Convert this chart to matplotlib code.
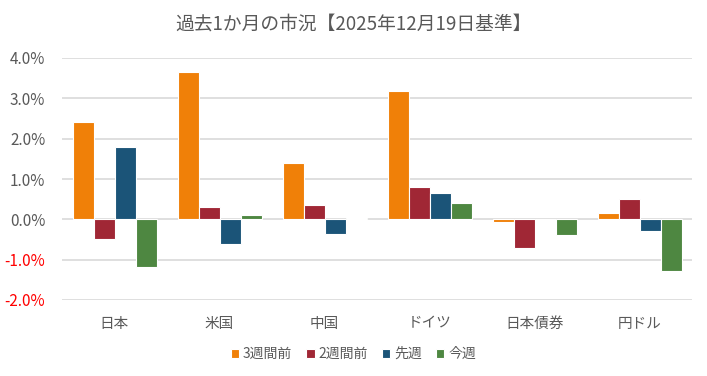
import matplotlib
matplotlib.use("Agg")
import matplotlib.pyplot as plt
import numpy as np

plt.rcParams['font.family'] = ['Noto Sans CJK JP', 'DejaVu Sans']

categories = ["日本", "米国", "中国", "ドイツ", "日本債券", "円ドル"]
series_names = ["3週間前", "2週間前", "先週", "今週"]
weeks3 = [2.42, 3.66, 1.39, 3.17, -0.07, 0.15]
weeks2 = [-0.48, 0.31, 0.36, 0.80, -0.70, 0.50]
last_week = [1.80, -0.62, -0.36, 0.65, 0.02, -0.28]
this_week = [-1.18, 0.11, 0.04, 0.41, -0.40, -1.28]
yticks = [-2, -1, 0, 1, 2, 3, 4]

colors = ["#F08008", "#A02735", "#1B5478", "#4E8741"]
text_gray = "#595959"

fig = plt.figure(figsize=(7.07, 3.76), dpi=100)
ax = fig.add_axes([62 / 707, 1 - 300 / 376, 630 / 707, 242 / 376])

x = np.arange(len(categories))
width = 0.2
for i, (vals, name) in enumerate(zip([weeks3, weeks2, last_week, this_week], series_names)):
    ax.bar(x + (i - 1.5) * width, vals, width, color=colors[i], edgecolor="white",
           linewidth=0.8, label=name, zorder=3)

ax.set_xlim(-0.5, len(categories) - 0.5)
ax.set_ylim(-2, 4)
ax.set_yticks(yticks)
ax.set_yticklabels([f"{v:.1f}%" for v in yticks], fontsize=11)
for lbl, v in zip(ax.get_yticklabels(), yticks):
    lbl.set_color("#FF0000" if v < 0 else text_gray)
ax.set_xticks(x)
ax.set_xticklabels(categories, fontsize=10.5, color=text_gray)
ax.tick_params(axis="both", length=0)
ax.tick_params(axis="x", pad=12)
ax.tick_params(axis="y", pad=12)
ax.grid(axis="y", color="#D9D9D9", linewidth=1.2, zorder=0)
for s in ax.spines.values():
    s.set_visible(False)

fig.suptitle("過去1か月の市況【2025年12月19日基準】", x=0.5, y=0.965, fontsize=13.5,
             color=text_gray)

fig.legend(loc="center", bbox_to_anchor=(0.5, 1 - 354 / 376), ncol=4,
           frameon=False, fontsize=10, handlelength=0.6, handleheight=0.6,
           handletextpad=0.3, columnspacing=1.0, labelcolor=text_gray)

fig.savefig("out.png", dpi=100, facecolor="white")
